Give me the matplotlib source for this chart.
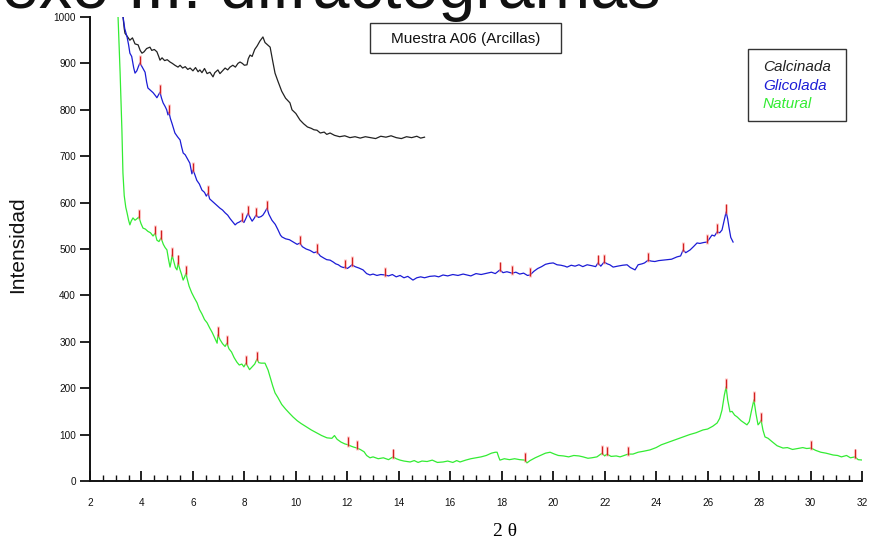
import numpy as np
import matplotlib
matplotlib.use("Agg")
import matplotlib.pyplot as plt
from matplotlib.ticker import MultipleLocator

# ---- diffractogram data (2θ in degrees, intensity in counts) ----
calc_x = [3.28, 3.33, 3.36, 3.45, 3.55, 3.65, 3.75, 3.87, 3.95, 4.02, 4.1, 4.2, 4.33, 4.4, 4.5,
          4.6, 4.67, 4.72, 4.8, 4.9, 5.0, 5.11, 5.2, 5.3, 5.42, 5.5, 5.6, 5.7, 5.8, 5.89, 6.0,
          6.1, 6.2, 6.27, 6.35, 6.45, 6.55, 6.66, 6.72, 6.78, 6.85, 6.97, 7.05, 7.15, 7.25,
          7.35, 7.44, 7.55, 7.65, 7.75, 7.83, 7.92, 8.0, 8.1, 8.15, 8.22, 8.3, 8.4, 8.5, 8.6,
          8.72, 8.8, 8.9, 9.0, 9.1, 9.19, 9.3, 9.45, 9.6, 9.77, 9.85, 10.0, 10.16, 10.3, 10.45,
          10.6, 10.7, 10.82, 10.95, 11.1, 11.2, 11.33, 11.5, 11.7, 11.9, 12.1, 12.3, 12.5, 12.7,
          12.9, 13.1, 13.3, 13.5, 13.7, 13.9, 14.1, 14.3, 14.5, 14.7, 14.85, 15.0]
calc_y = [1002, 975, 965, 958, 950, 955, 942, 940, 928, 922, 925, 932, 935, 928, 930,
          925, 915, 907, 912, 906, 908, 903, 900, 896, 892, 896, 890, 893, 887, 890, 884,
          891, 882, 886, 880, 889, 878, 881, 876, 871, 880, 886, 878, 884, 890,
          886, 892, 896, 892, 900, 903, 900, 896, 897, 910, 918, 915, 930, 938, 948,
          957, 945, 940, 935, 905, 879, 862, 840, 825, 815, 800, 792, 778, 770, 763,
          760, 757, 756, 750, 752, 747, 750, 745, 742, 744, 740, 742, 739, 742,
          740, 738, 743, 741, 744, 740, 738, 742, 740, 743, 739, 741]

glic_x = [3.28, 3.35, 3.44, 3.5, 3.55, 3.62, 3.7, 3.75, 3.82, 3.88, 3.94, 4.0, 4.07, 4.14, 4.2,
          4.25, 4.35, 4.45, 4.55, 4.6, 4.66, 4.72, 4.78, 4.84, 4.92, 4.98, 5.03, 5.07, 5.12,
          5.19, 5.3, 5.4, 5.5, 5.56, 5.62, 5.7, 5.81, 5.88, 5.96, 6.0, 6.05, 6.15, 6.25, 6.35,
          6.45, 6.52, 6.59, 6.65, 6.75, 6.85, 6.95, 7.05, 7.15, 7.25, 7.35, 7.45, 7.55, 7.64,
          7.72, 7.8, 7.91, 7.98, 8.05, 8.14, 8.22, 8.3, 8.38, 8.45, 8.55, 8.65, 8.72, 8.8,
          8.88, 8.95, 9.07, 9.2, 9.3, 9.4, 9.46, 9.6, 9.75, 9.9, 10.05, 10.16, 10.25, 10.4,
          10.55, 10.7, 10.82, 10.95, 11.1, 11.2, 11.33, 11.45, 11.55, 11.65, 11.75, 11.85,
          11.91, 12.0, 12.1, 12.18, 12.3, 12.45, 12.61, 12.75, 12.88, 13.0, 13.15, 13.3,
          13.47, 13.6, 13.75, 13.9, 14.05, 14.2, 14.35, 14.55, 14.7, 14.85, 15.0, 15.2, 15.4,
          15.55, 15.72, 15.9, 16.1, 16.3, 16.5, 16.65, 16.8, 17.0, 17.2, 17.43, 17.6, 17.75,
          17.93, 18.05, 18.2, 18.4, 18.55, 18.7, 18.85, 19.0, 19.1, 19.25, 19.4, 19.55, 19.7,
          19.85, 20.0, 20.15, 20.3, 20.45, 20.54, 20.7, 20.85, 21.0, 21.15, 21.32, 21.5,
          21.65, 21.74, 21.85, 21.98, 22.1, 22.2, 22.33, 22.5, 22.7, 22.87, 23.0, 23.18, 23.3,
          23.45, 23.55, 23.69, 23.8, 23.95, 24.1, 24.27, 24.45, 24.6, 24.81, 24.95, 25.05,
          25.15, 25.32, 25.45, 25.59, 25.7, 25.85, 25.98, 26.07, 26.17, 26.27, 26.37, 26.47,
          26.56, 26.64, 26.72, 26.78, 26.83, 26.9, 26.99]
glic_y = [1002, 975, 957, 940, 922, 915, 890, 879, 884, 893, 901, 895, 888, 881, 860,
          847, 842, 837, 830, 826, 832, 838, 825, 815, 807, 800, 789, 795, 782,
          770, 750, 742, 735, 720, 707, 703, 692, 685, 662, 670, 664, 648, 640, 627,
          622, 614, 620, 608, 603, 598, 593, 588, 584, 578, 573, 565, 558, 552,
          556, 558, 562, 557, 565, 577, 568, 560, 566, 573, 568, 570, 573, 580,
          588, 575, 562, 553, 542, 530, 526, 522, 520, 515, 510, 513, 505, 500,
          497, 492, 494, 485, 480, 477, 476, 472, 468, 466, 462, 460,
          461, 458, 462, 466, 462, 459, 455, 447, 444, 446, 443, 445,
          444, 442, 445, 440, 443, 438, 441, 433, 438, 440, 438, 441, 442,
          440, 444, 442, 445, 443, 446, 444, 442, 447, 445, 448, 450, 447,
          455, 449, 451, 448, 450, 446, 448, 443, 444, 452, 458, 462, 467,
          469, 470, 466, 465, 463, 461, 465, 463, 466, 462, 466, 464,
          462, 470, 463, 472, 468, 466, 461, 463, 465, 466, 460, 455, 466,
          468, 470, 476, 474, 473, 475, 476, 477, 478, 483, 485, 498,
          492, 498, 505, 513, 512, 514, 515, 522, 530, 528, 537, 535,
          541, 560, 580, 565, 547, 525, 515]

nat_x = [3.09, 3.17, 3.24, 3.28, 3.33, 3.39, 3.44, 3.5, 3.55, 3.6, 3.67, 3.75, 3.82, 3.9, 3.98,
         4.06, 4.15, 4.25, 4.35, 4.45, 4.53, 4.6, 4.68, 4.76, 4.85, 4.92, 4.99, 5.05, 5.11,
         5.15, 5.19, 5.26, 5.32, 5.38, 5.42, 5.5, 5.56, 5.62, 5.68, 5.73, 5.77, 5.85, 5.95,
         6.05, 6.16, 6.25, 6.35, 6.45, 6.55, 6.65, 6.75, 6.85, 6.94, 6.97, 7.05, 7.15, 7.25,
         7.32, 7.4, 7.5, 7.6, 7.71, 7.8, 7.9, 7.98, 8.06, 8.15, 8.2, 8.3, 8.4, 8.49, 8.56,
         8.65, 8.8, 8.92, 9.0, 9.1, 9.19, 9.3, 9.45, 9.6, 9.75, 9.89, 10.05, 10.2, 10.43,
         10.6, 10.8, 11.0, 11.21, 11.4, 11.5, 11.6, 11.75, 11.9, 12.03, 12.15, 12.25, 12.38,
         12.5, 12.65, 12.75, 12.88, 13.0, 13.2, 13.4, 13.6, 13.78, 13.9, 14.05, 14.2, 14.44,
         14.6, 14.75, 14.9, 15.1, 15.3, 15.5, 15.72, 15.9, 16.1, 16.25, 16.38, 16.6, 16.8,
         17.0, 17.2, 17.4, 17.6, 17.75, 17.82, 17.88, 17.93, 18.1, 18.3, 18.5, 18.7, 18.9,
         18.98, 19.1, 19.3, 19.5, 19.7, 19.88, 20.05, 20.2, 20.4, 20.6, 20.8, 21.0, 21.16,
         21.35, 21.5, 21.7, 21.9, 22.0, 22.09, 22.25, 22.45, 22.6, 22.75, 22.91, 23.1, 23.3,
         23.5, 23.76, 24.0, 24.2, 24.4, 24.6, 24.8, 25.05, 25.3, 25.55, 25.82, 26.0, 26.2,
         26.37, 26.47, 26.56, 26.65, 26.72, 26.78, 26.87, 26.95, 27.05, 27.15, 27.3, 27.4,
         27.53, 27.62, 27.7, 27.8, 27.88, 27.96, 28.02, 28.08, 28.15, 28.23, 28.35, 28.5,
         28.7, 28.93, 29.1, 29.3, 29.5, 29.7, 29.85, 30.02, 30.2, 30.4, 30.6, 30.88, 31.05,
         31.2, 31.4, 31.55, 31.73, 31.85, 32.04]
nat_y = [1000, 880, 756, 664, 615, 590, 578, 562, 552, 560, 567, 562, 565, 569, 555,
         545, 543, 538, 535, 528, 534, 519, 516, 524, 510, 503, 498, 478, 461,
         472, 487, 472, 460, 455, 470, 455, 445, 433, 440, 448, 437, 420, 406,
         395, 384, 370, 360, 348, 341, 330, 320, 308, 297, 315, 305, 296, 290,
         297, 285, 278, 266, 256, 250, 252, 246, 254, 245, 240, 246, 252, 263, 255,
         254, 254, 239, 224, 205, 190, 180, 165, 155, 146, 138, 130, 124, 116,
         110, 104, 98, 93, 92, 98, 90, 84, 80, 78, 75, 73, 71,
         68, 63, 55, 50, 52, 48, 50, 46, 52, 48, 45, 43, 41,
         44, 40, 43, 42, 45, 40, 41, 43, 40, 44, 41, 45, 48,
         50, 52, 55, 60, 62, 62, 52, 45, 48, 46, 48, 46, 45,
         39, 44, 50, 55, 60, 62, 58, 55, 54, 52, 55, 54, 52,
         49, 50, 52, 60, 54, 58, 53, 54, 52, 55, 58, 58, 62,
         64, 67, 72, 78, 82, 86, 90, 95, 100, 104, 110, 112, 118,
         125, 135, 153, 185, 203, 175, 149, 150, 142, 138, 130, 126,
         121, 128, 150, 175, 145, 121, 125, 131, 110, 95, 92, 85,
         76, 71, 72, 68, 70, 72, 70, 71, 66, 62, 60, 56, 55,
         52, 55, 50, 52, 46, 45]

# identified reflection positions (2θ)
glic_peaks = [3.94, 4.72, 5.07, 6.0, 6.59, 7.91, 8.14, 8.45, 8.88, 10.16, 10.82, 11.91,
              12.18, 13.47, 17.93, 18.4, 19.1, 21.74, 21.98, 23.69, 25.05, 25.98, 26.37, 26.72]
nat_peaks = [3.9, 4.53, 4.76, 5.19, 5.42, 5.73, 6.97, 7.32, 8.06, 8.49, 12.03, 12.38,
             13.78, 18.9, 21.9, 22.09, 22.91, 26.72, 27.8, 28.08, 30.02, 31.73]

series_names = ["Calcinada", "Glicolada", "Natural"]
series_colors = ["#222222", "#1c1cd6", "#33ec33"]

x_ticks = list(range(2, 33, 2))
y_ticks = list(range(0, 1001, 100))

W, H = 869, 547
fig = plt.figure(figsize=(W / 100, H / 100), dpi=100)
ax = fig.add_axes([90 / W, 1 - 481 / H, (862 - 90) / W, (481 - 17) / H])

sans = ["Liberation Sans", "DejaVu Sans"]

ax.plot(calc_x, calc_y, color=series_colors[0], lw=0.9, zorder=3)
ax.plot(glic_x, glic_y, color=series_colors[1], lw=0.9, zorder=3)
ax.plot(nat_x, nat_y, color=series_colors[2], lw=0.9, zorder=3)

# reflection markers: short red bars at each identified peak
for px_, xs, ys in [(glic_peaks, glic_x, glic_y), (nat_peaks, nat_x, nat_y)]:
    pk = np.array(px_)
    yv = np.interp(pk, xs, ys)
    ax.vlines(pk, yv - 4, yv + 18, color="#ff9090", lw=2.2, alpha=0.5, zorder=4)
    ax.vlines(pk, yv - 2, yv + 16, color="#d02020", lw=0.8, zorder=5)

ax.set_xlim(2, 32)
ax.set_ylim(0, 1000)
ax.set_xticks(x_ticks)
ax.set_yticks(y_ticks)
ax.xaxis.set_minor_locator(MultipleLocator(0.5))
ax.set_xticklabels([str(v) for v in x_ticks], family=sans, fontsize=7.2)
ax.set_yticklabels([str(v) for v in y_ticks], family=sans, fontsize=7.2)

for s in ["top", "right"]:
    ax.spines[s].set_visible(False)
for s in ["left", "bottom"]:
    ax.spines[s].set_linewidth(1.4)
    ax.spines[s].set_color("#111111")

ax.tick_params(axis="y", direction="out", length=7, width=1.3, pad=3, colors="#111111")
ax.tick_params(axis="x", which="major", direction="in", length=7, width=1.3, pad=12,
               colors="#111111")
ax.tick_params(axis="x", which="minor", direction="in", length=4, width=1.0, colors="#111111")

fig.text(18 / W, 1 - 245 / H, "Intensidad", family=sans, fontsize=15, rotation=90,
         ha="center", va="center", color="#111111")
fig.text(505 / W, 1 - 532 / H, "2 θ", family=["Liberation Serif", "DejaVu Serif"],
         fontsize=14, ha="center", va="center")

# sample title box
fig.patches.append(plt.Rectangle((370 / W, 1 - 53 / H), 191 / W, 30 / H,
                                 transform=fig.transFigure, fill=False,
                                 ec="#333333", lw=1.0))
fig.text(465.5 / W, 1 - 38.5 / H, "Muestra A06 (Arcillas)", family=sans, fontsize=11,
         ha="center", va="center", color="#111111")

# legend box
fig.patches.append(plt.Rectangle((748 / W, 1 - 121 / H), 98 / W, 72 / H,
                                 transform=fig.transFigure, fill=False,
                                 ec="#333333", lw=1.0))
for i, (name, col) in enumerate(zip(series_names, series_colors)):
    fig.text(763 / W, 1 - (67 + 18.5 * i) / H, name, family=sans, style="italic",
             fontsize=11, color=col, ha="left", va="center")

# page heading (partly outside the canvas)
fig.text(661 / W, 1 - 8 / H, "Anexo III: difractogramas", family=sans, fontsize=48,
         ha="right", va="baseline", color="#111111")

fig.savefig("out.png", dpi=100)
